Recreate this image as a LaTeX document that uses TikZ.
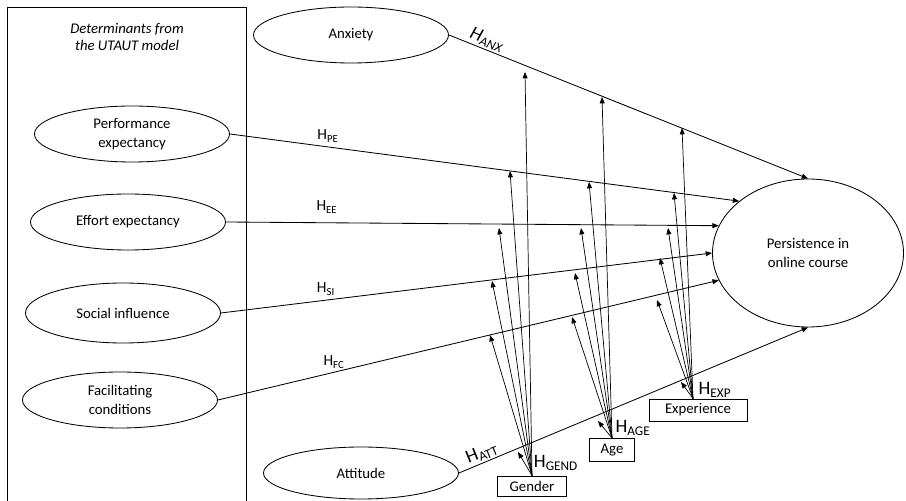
\documentclass[tikz,border=0pt]{standalone}
\usepackage{fontspec}
\setmainfont{Carlito}
\usetikzlibrary{shapes.geometric, arrows.meta, positioning, calc}

\begin{document}
\begin{tikzpicture}[
  construct/.style={
    ellipse, draw, minimum width=4.875cm, minimum height=1.4cm,
    inner sep=0pt, font=\fontsize{10.5}{13}\selectfont, align=center, line width=0.6pt,
  },
  moderator/.style={
    rectangle, draw, inner sep=0pt, font=\fontsize{10.5}{13}\selectfont, line width=0.6pt,
  },
  hyparrow/.style={-{Triangle[length=4.5pt,width=3.5pt]}, line width=0.6pt},
  modarrow/.style={-{Triangle[length=4.5pt,width=3.5pt]}, line width=0.5pt},
  hyp/.style={font=\fontsize{11}{13}\selectfont, inner sep=0pt},
  hypbig/.style={font=\fontsize{13.5}{15}\selectfont, inner sep=0pt},
]
  \useasboundingbox (0,0) rectangle (22.65,12.525);

  % Frame
  \draw[line width=0.6pt] (0.175,0) |- (6.15,12.35) -- (6.15,0);
  \node[font=\fontsize{10.5}{12.5}\selectfont\itshape, align=center] (utaut) at (3.175,11.6) {Determinants from\\the UTAUT model};

  % Constructs
  \node[construct] (anx) at (8.775,11.65) {Anxiety};
  \node[construct] (pe) at (3.3,9.175) {Performance\\expectancy};
  \node[construct] (ee) at (3.2,6.975) {Effort expectancy};
  \node[construct, minimum height=1.5cm] (si) at (3.075,4.7) {Social influence};
  \node[construct] (fc) at (3.0,2.525) {Facilitating\\conditions};
  \node[construct, minimum height=1.3cm] (att) at (9.025,0.7) {Attitude};
  \node[construct, minimum width=4.775cm, minimum height=3.7cm] (pers) at (20.2,6.2) {Persistence in\\online course};

  % Moderators
  \node[moderator, minimum width=1.725cm, minimum height=0.5cm] (gend) at (13.3,0.375) {Gender};
  \node[moderator, minimum width=1.125cm, minimum height=0.575cm] (age) at (15.3,1.275) {Age};
  \node[moderator, minimum width=2.45cm, minimum height=0.55cm] (exp) at (17.45,2.275) {Experience};

  % Hypotheses
  \draw[hyparrow] (anx.east) -- (pers.90);
  \draw[hyparrow] (pe.east) -- (pers.143);
  \draw[hyparrow] (ee.east) -- (pers.163);
  \draw[hyparrow] (si.east) -- (pers.180);
  \draw[hyparrow] (fc.east) -- (pers.197);
  \draw[hyparrow] (att.east) -- (pers.270);

  \node[hypbig, rotate=-22] (h-anx) at (12.175,11.525) {\textit{H\textsubscript{ANX}}};
  \node[hyp] (h-pe) at (8.2,9.125) {H\textsubscript{PE}};
  \node[hyp] (h-ee) at (8.175,7.35) {H\textsubscript{EE}};
  \node[hyp] (h-si) at (8.15,5.3) {H\textsubscript{SI}};
  \node[hyp] (h-fc) at (8.35,3.475) {H\textsubscript{FC}};
  \node[hypbig, rotate=22] (h-att) at (12.05,1.2) {H\textsubscript{ATT}};
  \node[hypbig] (h-gend) at (13.9,0.95) {H\textsubscript{GEND}};
  \node[hypbig] (h-age) at (15.825,1.825) {H\textsubscript{AGE}};
  \node[hypbig] (h-exp) at (17.875,2.775) {H\textsubscript{EXP}};

  % Moderating effects
  \coordinate (g-anx) at (13.125,10.725);
  \coordinate (g-pe) at (12.75,8.25);
  \coordinate (g-ee) at (12.475,6.825);
  \coordinate (g-si) at (12.3,5.5);
  \coordinate (g-fc) at (12.25,4.15);
  \coordinate (g-att) at (12.95,1.225);

  \coordinate (a-anx) at (15.05,10.1);
  \coordinate (a-pe) at (14.725,7.975);
  \coordinate (a-ee) at (14.525,6.825);
  \coordinate (a-si) at (14.375,5.7);
  \coordinate (a-fc) at (14.3,4.6);
  \coordinate (a-att) at (14.95,2.0);

  \coordinate (e-anx) at (17.05,9.325);
  \coordinate (e-pe) at (16.85,7.7);
  \coordinate (e-ee) at (16.7,6.825);
  \coordinate (e-si) at (16.5,6.075);
  \coordinate (e-fc) at (16.425,5.025);
  \coordinate (e-att) at (17.025,2.975);

  \foreach \t in {anx,pe,ee,si,fc,att} {
    \draw[modarrow] (gend.north) -- (g-\t);
    \draw[modarrow] (age.north) -- (a-\t);
    \draw[modarrow] ($(exp.north)+(-0.125,0)$) -- (e-\t);
  }
\end{tikzpicture}
\end{document}
